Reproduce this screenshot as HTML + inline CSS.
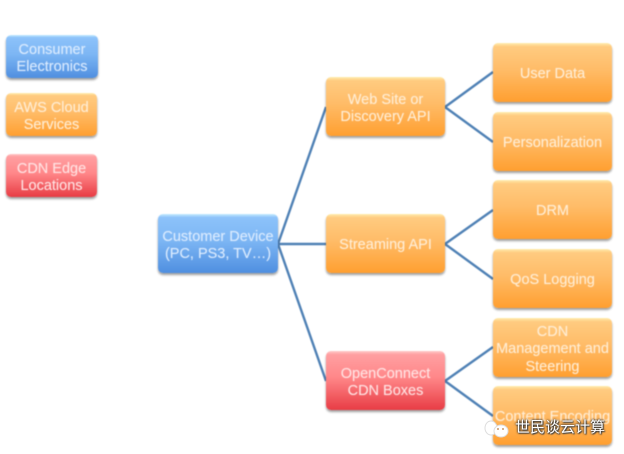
<!DOCTYPE html>
<html><head><meta charset="utf-8"><style>
html,body{margin:0;padding:0;background:#fff}
#c{position:relative;width:624px;height:454px;overflow:hidden;background:#fff;font-family:"Liberation Sans","DejaVu Sans",sans-serif}
#g{position:absolute;left:0;top:0;width:624px;height:454px;filter:blur(.45px)}
.b{position:absolute;box-sizing:border-box;border-radius:5px;color:#fff;text-align:center;font-size:14.5px;line-height:17.5px;padding-top:5px;display:flex;align-items:center;justify-content:center;box-shadow:0 2px 2px rgba(0,0,0,.38);text-shadow:0 0 1px rgba(255,255,255,.3)}
.o{background:linear-gradient(#ffeeb0 0,#ffcb80 6%,#ffbc68 45%,#ff9f30 100%);color:#ffeed6}
.u{background:linear-gradient(#c5ecff 0,#8cc2fa 6%,#7db6f4 45%,#4f8fe0 100%);color:#dcecff}
.r{background:linear-gradient(#ffcaca 0,#ff9fa1 6%,#ff8789 45%,#e83c44 100%);color:#ffe4e4}
svg{position:absolute;left:0;top:0}
#w{position:absolute;left:515px;top:418px;font-family:"Liberation Sans","Noto Sans CJK SC",sans-serif;font-size:15px;line-height:20px;color:#fff;text-shadow:0 0 2px #333,0 0 2px #333,1px 1px 1px #555;white-space:nowrap}
</style></head><body><div id="c">
<div id="g">
<svg width="624" height="454"><g stroke="#4f81b5" stroke-width="2.4" fill="none">
<path d="M278 244L326 107M278 244H326M278 244L326 381"/>
<path d="M445 107L493 72M445 107L493 142M445 244L493 210M445 244L493 279M445 381L493 347M445 381L493 416"/>
</g></svg>
<div class="b u" style="left:6px;top:35px;width:92px;height:43px">Consumer<br>Electronics</div>
<div class="b o" style="left:6px;top:93px;width:91px;height:43px">AWS Cloud<br>Services</div>
<div class="b r" style="left:6px;top:154px;width:91px;height:43px">CDN Edge<br>Locations</div>
<div class="b u" style="left:158px;top:214px;width:120px;height:59px">Customer Device<br>(PC, PS3, TV…)</div>
<div class="b o" style="left:326px;top:77px;width:119px;height:59px">Web Site or<br>Discovery API</div>
<div class="b o" style="left:326px;top:214px;width:119px;height:59px">Streaming API</div>
<div class="b r" style="left:326px;top:351px;width:119px;height:59px">OpenConnect<br>CDN Boxes</div>
<div class="b o" style="left:493px;top:43px;width:119px;height:59px">User Data</div>
<div class="b o" style="left:493px;top:112px;width:119px;height:59px">Personalization</div>
<div class="b o" style="left:493px;top:180px;width:119px;height:59px">DRM</div>
<div class="b o" style="left:493px;top:249px;width:119px;height:59px">QoS Logging</div>
<div class="b o" style="left:493px;top:318px;width:119px;height:59px">CDN<br>Management and<br>Steering</div>
<div class="b o" style="left:493px;top:386px;width:119px;height:59px;white-space:nowrap">Content Encoding</div>
</div>
<svg width="624" height="454"><g fill="#fff" stroke="#ddd" stroke-width="1"><ellipse cx="491" cy="428" rx="6" ry="7"/><ellipse cx="501" cy="431" rx="7" ry="6"/></g><circle cx="498" cy="429" r="1" fill="#c96"/><circle cx="503" cy="429" r="1" fill="#c96"/></svg>
<div id="w">世民谈云计算</div>
</div></body></html>
